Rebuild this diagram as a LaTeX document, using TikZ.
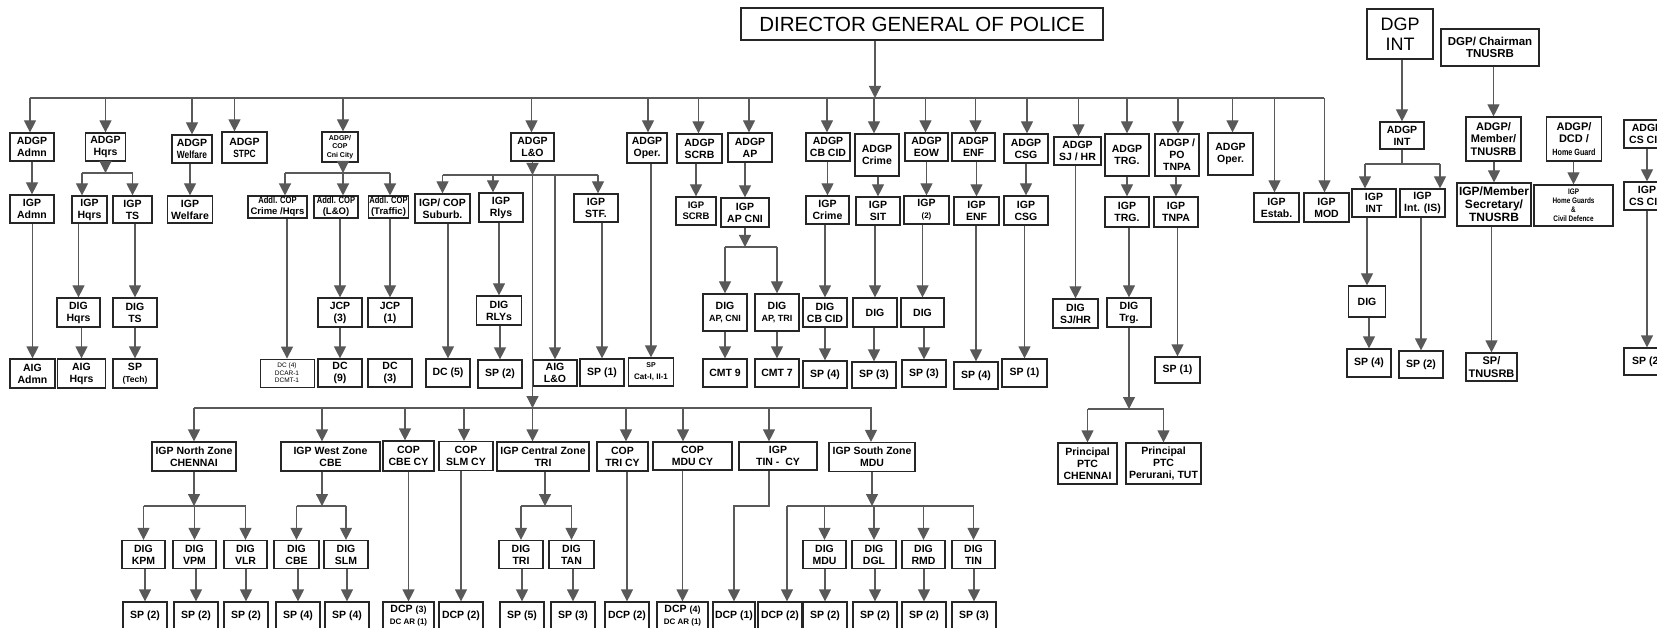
\documentclass[tikz,border=0pt]{standalone}
\usepackage{fontspec}
\setmainfont{Liberation Sans}
\newfontfamily\condfont[FakeStretch=0.8]{Liberation Sans}
\usetikzlibrary{arrows.meta,calc,positioning}
\tikzset{
  box/.style={draw=black!85, line width=1.2pt, align=center, inner sep=1pt,
    minimum height=28pt, font=\bfseries\fontsize{10.5}{12}\selectfont},
  tall/.style={minimum height=42pt},
  link/.style={draw=black!65, line width=1.2pt},
  arr/.style={link, -{Triangle[width=12pt,length=12pt]}},
  tinytext/.style={font=\bfseries\fontsize{7}{8.5}\selectfont},
  condtext/.style={font=\bfseries\fontsize{9.5}{11}\selectfont}
}

\begin{document}
\begin{tikzpicture}[x=1pt,y=-1pt]
\fill[white] (0,0) rectangle (1657,628);
\useasboundingbox (0,0) rectangle (1657,628);
\clip (0,0) rectangle (1657,628);

% head
\node[box, font=\fontsize{20.5}{22}\selectfont, minimum width=362, minimum height=32] (dgp) at (922,24) {DIRECTOR GENERAL OF POLICE};
\coordinate (busL) at (30,98);
\coordinate (busR) at (1324,98);
\coordinate (dgpDrop) at (875,98);

% ADGP row
\node[box, minimum width=44] (adgpAdmn) at (32,147) {ADGP\\Admn};
\node[box, minimum width=40] (adgpHqrs) at (105.5,147) {ADGP\\Hqrs};
\node[box, minimum width=40] (adgpWelfare) at (192,149) {ADGP\\{\condfont Welfare}};
\node[box, minimum width=45, minimum height=31] (adgpStpc) at (244.5,147.5) {ADGP\\{\condfont STPC}};
\node[box, tinytext, minimum width=36, minimum height=30] (adgpCni) at (340,147) {ADGP/\\COP\\Cni City};
\node[box, minimum width=43] (adgpLO) at (532.5,147) {ADGP\\L\&O};
\node[box, minimum width=40, minimum height=30] (adgpOper) at (647,148) {ADGP\\Oper.};
\node[box, minimum width=45, minimum height=29] (adgpScrb) at (699.5,148.5) {ADGP\\SCRB};
\node[box, minimum width=44, minimum height=29] (adgpAp) at (750,147.5) {ADGP\\AP};
\node[box, minimum width=44] (adgpCbcid) at (828,147) {ADGP\\CB CID};
\node[box, tall, minimum width=44] (adgpCrime) at (877,155) {ADGP\\Crime};
\node[box, minimum width=43] (adgpEow) at (926.5,147) {ADGP\\EOW};
\node[box, minimum width=43] (adgpEnf) at (973.5,147) {ADGP\\ENF};
\node[box, minimum width=44, minimum height=29] (adgpCsg) at (1026,148.5) {ADGP\\CSG};
\node[box, minimum width=47] (adgpSjhr) at (1077.5,151) {ADGP\\SJ / HR};
\node[box, tall, minimum width=44] (adgpTrg) at (1127,155) {ADGP\\TRG.};
\node[box, tall, minimum width=44] (adgpTnpa) at (1177,155) {ADGP /\\PO\\TNPA};
\node[box, tall, minimum width=45] (adgpOper2) at (1230.5,154) {ADGP\\Oper.};
\node[box, minimum width=45, minimum height=29] (igpEstab) at (1276.5,207.5) {IGP\\Estab.};
\node[box, minimum width=45, minimum height=29] (igpMod) at (1326.5,207.5) {IGP\\MOD};

% IGP row
\node[box, minimum width=44] (igpAdmn) at (32,209) {IGP\\Admn};
\node[box, minimum width=35, minimum height=27] (igpHqrs) at (89.5,209.5) {IGP\\Hqrs};
\node[box, minimum width=39, minimum height=27] (igpTs) at (132.5,209.5) {IGP\\TS};
\node[box, minimum width=45, minimum height=27] (igpWelfare) at (190,209.5) {IGP\\Welfare};
\node[box, condtext, minimum width=59, minimum height=20] (addlCrime) at (277.5,207) {{\condfont Addl. COP}\\Crime /Hqrs};
\node[box, condtext, minimum width=44, minimum height=20] (addlLO) at (336,207) {{\condfont Addl. COP}\\(L\&O)};
\node[box, condtext, minimum width=39, minimum height=20] (addlTraffic) at (388.5,207) {{\condfont Addl. COP}\\(Traffic)};
\node[box, minimum width=55, minimum height=29] (igpSuburb) at (442.5,208.5) {IGP/ COP\\Suburb.};
\node[box, minimum width=44, minimum height=29] (igpRlys) at (501,207.5) {IGP\\Rlys};
\node[box, minimum width=44] (igpStf) at (596,208) {IGP\\STF.};
\node[box, minimum width=40, font=\bfseries\fontsize{9.5}{11}\selectfont] (igpScrb) at (696,211) {IGP\\SCRB};
\node[box, minimum width=48, minimum height=29] (igpApcni) at (745,212.5) {IGP\\AP CNI};
\node[box, minimum width=43] (igpCrime) at (827.5,210) {IGP\\Crime};
\node[box, minimum width=44] (igpSit) at (878,211) {IGP\\SIT};
\node[box, minimum width=45] (igpEow) at (926.5,210) {IGP\\{\fontsize{8}{10}\selectfont (2)}};
\node[box, minimum width=45] (igpEnf) at (976.5,211) {IGP\\ENF};
\node[box, minimum width=44, minimum height=29] (igpCsg) at (1026,210.5) {IGP\\CSG};
\node[box, minimum width=44, minimum height=30] (igpTrg) at (1127,212) {IGP\\TRG.};
\node[box, minimum width=44, minimum height=30] (igpTnpa) at (1176,212) {IGP\\TNPA};

% DIG row
\node[box, minimum width=43, minimum height=29] (digHqrs) at (78.5,312.5) {DIG\\Hqrs};
\node[box, minimum width=44, minimum height=29] (digTs) at (135,312.5) {DIG\\TS};
\node[box, minimum width=44, minimum height=29] (jcp3) at (340,312.5) {JCP\\(3)};
\node[box, minimum width=44, minimum height=29] (jcp1) at (390,312.5) {JCP\\(1)};
\node[box, minimum width=45, minimum height=29] (digRlys) at (499,310.5) {DIG\\RLYs};
\node[box, minimum width=44, minimum height=37] (digApcni) at (725,312.5) {DIG\\{\fontsize{9}{11}\selectfont AP, CNI}};
\node[box, minimum width=44, minimum height=37] (digAptri) at (777,312.5) {DIG\\{\fontsize{9}{11}\selectfont AP, TRI}};
\node[box, minimum width=44, minimum height=29] (digCbcid) at (825,312.5) {DIG\\CB CID};
\node[box, minimum width=44, minimum height=29] (digSit) at (875,312.5) {DIG};
\node[box, minimum width=43, minimum height=29] (digEow) at (922.5,312.5) {DIG};
\node[box, minimum width=45, minimum height=29] (digSjhr) at (1075.5,313.5) {DIG\\SJ/HR};
\node[box, minimum width=44, minimum height=29] (digTrg) at (1129,312.5) {DIG\\Trg.};

% SP row
\node[box, minimum width=45, minimum height=29] (aigAdmn) at (32.5,373.5) {AIG\\Admn};
\node[box, minimum width=48, minimum height=29] (aigHqrs) at (81.5,373.5) {AIG\\Hqrs};
\node[box, minimum width=44, minimum height=29] (spTech) at (135,373.5) {SP\\{\fontsize{8.5}{10}\selectfont (Tech)}};
\node[box, line width=0.8pt, minimum width=54, font=\fontsize{6.5}{7.5}\selectfont] (dcCrime) at (287,373) {DC (4)\\DCAR-1\\DCMT-1};
\node[box, minimum width=44] (dc9) at (340,373) {DC\\(9)};
\node[box, minimum width=44] (dc3) at (390,373) {DC\\(3)};
\node[box, minimum width=44] (dc5) at (448,373) {DC (5)};
\node[box, minimum width=44] (spRlys) at (500,374) {SP (2)};
\node[box, minimum width=44, minimum height=26] (aigLO) at (555,373) {AIG\\L\&O};
\node[box, minimum width=44, minimum height=27] (spStf) at (602,372.5) {SP (1)};
\node[box, minimum width=45] (spCat) at (651,372) {{\fontsize{7}{8}\selectfont SP}\\{\fontsize{8}{9}\selectfont Cat-I, II-1}};
\node[box, minimum width=44] (cmt9) at (725,373) {CMT 9};
\node[box, minimum width=44] (cmt7) at (777,373) {CMT 7};
\node[box, minimum width=44, minimum height=27] (spCbcid) at (825,374.5) {SP (4)};
\node[box, minimum width=44, minimum height=26] (spSit) at (874,375) {SP (3)};
\node[box, minimum width=44, minimum height=27] (spEow) at (924,373.5) {SP (3)};
\node[box, minimum width=44, minimum height=27] (spEnf) at (976,375.5) {SP (4)};
\node[box, minimum width=45] (spCsg) at (1024.5,373) {SP (1)};
\node[box, minimum width=45, minimum height=26] (spTnpa) at (1177.5,370) {SP (1)};

% training
\node[box, minimum width=59, minimum height=41] (ptcChennai) at (1087.5,463.5) {Principal\\PTC\\CHENNAI};
\node[box, minimum width=75, minimum height=41] (ptcTut) at (1163.5,463.5) {Principal\\PTC\\Perurani, TUT};

% intelligence
\node[box, font=\fontsize{18}{20}\selectfont, minimum width=66, minimum height=50] (dgpInt) at (1400,34) {DGP\\INT};
\node[box, minimum width=44, minimum height=27] (adgpInt) at (1402,135.5) {ADGP\\INT};
\node[box, minimum width=44] (igpInt) at (1374,203) {IGP\\INT};
\node[box, minimum width=45] (igpIntIs) at (1422.5,203) {IGP\\Int. (IS)};
\node[box, minimum width=37, minimum height=31] (digInt) at (1367,301.5) {DIG};
\node[box, minimum width=44] (spIntA) at (1369,363) {SP (4)};
\node[box, minimum width=44, minimum height=27] (spIntB) at (1421,364.5) {SP (2)};

% recruitment, home guard, CS CID
\node[box, font=\bfseries\fontsize{11.5}{12.5}\selectfont, minimum width=98, minimum height=37] (dgpChair) at (1490,47.5) {DGP/ Chairman\\TNUSRB};
\node[box, font=\bfseries\fontsize{11}{12.5}\selectfont, minimum width=55, minimum height=44] (adgpMember) at (1493.5,139) {ADGP/\\Member/\\TNUSRB};
\node[box, font=\bfseries\fontsize{12}{13}\selectfont, minimum width=74, minimum height=43] (igpMember) at (1494,204.5) {IGP/Member\\Secretary/\\TNUSRB};
\node[box, font=\bfseries\fontsize{11}{12.5}\selectfont, minimum width=51] (spTnusrb) at (1491.5,367) {SP/\\TNUSRB};
\node[box, font=\bfseries\fontsize{11}{12.5}\selectfont, minimum width=55, minimum height=44] (adgpDcd) at (1574,139) {ADGP/\\DCD /\\{\condfont\fontsize{9}{12.5}\selectfont Home Guard}};
\node[box, font=\condfont\bfseries\fontsize{8}{9}\selectfont, minimum width=79, minimum height=41] (igpHome) at (1573.5,205.5) {IGP\\Home Guards\\\&\\Civil Defence};
\node[box, minimum width=46] (adgpCscid) at (1647,134) {ADGP\\CS CID};
\node[box, minimum width=46] (igpCscid) at (1647,196) {IGP\\CS CID};
\node[box, minimum width=46, minimum height=27] (spCscid) at (1647,361.5) {SP (2)};

% zones
\node[box, minimum width=84, minimum height=29] (igpNorth) at (194,456.5) {IGP North Zone\\CHENNAI};
\node[box, minimum width=99, minimum height=29] (igpWest) at (330.5,456.5) {IGP West Zone\\CBE};
\node[box, minimum width=51, minimum height=30] (copCbe) at (408.5,456) {COP\\CBE CY};
\node[box, minimum width=54, minimum height=29] (copSlm) at (466,456) {COP\\SLM CY};
\node[box, minimum width=92, minimum height=29] (igpCentral) at (543,456.5) {IGP Central Zone\\TRI};
\node[box, minimum width=51, minimum height=29] (copTri) at (622.5,456.5) {COP\\TRI CY};
\node[box, minimum width=79] (copMdu) at (692.5,456) {COP\\MDU CY};
\node[box, minimum width=78] (igpTin) at (778,456) {IGP\\TIN -\ \ CY};
\node[box, minimum width=86, minimum height=29] (igpSouth) at (872,457) {IGP South Zone\\MDU};

% zone DIGs
\foreach \n/\x/\w/\t in {digKpm/143.5/43/KPM, digVpm/194.5/43/VPM, digVlr/245.5/43/VLR,
    digCbe/296.5/45/CBE, digSlm/346/44/SLM, digTri/521/44/TRI, digTan/571.5/45/TAN,
    digMdu/824.5/43/MDU, digDgl/874/44/DGL, digRmd/923.5/43/RMD, digTin/973.5/43/TIN}
  \node[box, minimum width=\w] (\n) at (\x,554.5) {DIG\\\t};

% zone SPs
\foreach \n/\x/\w/\t in {spKpm/145/44/SP (2), spVpm/196/44/SP (2), spVlr/246/44/SP (2),
    spCbe/298/44/SP (4), spSlm/347/44/SP (4), dcpSlm/461/44/DCP (2), spTri/522/44/SP (5),
    spTan/573/44/SP (3), dcpTri/627/44/DCP (2), dcpTin/734/42/DCP (1), dcpSouth/780/44/DCP (2),
    spMdu/825/44/SP (2), spDgl/875/44/SP (2), spRmd/924/44/SP (2), spTin/974/44/SP (3)}
  \node[box, minimum width=\w] (\n) at (\x,616) {\t};
\node[box, minimum width=51] (dcpCbe) at (408.5,616) {DCP {\fontsize{9}{10}\selectfont(3)}\\{\fontsize{8}{9}\selectfont DC AR (1)}};
\node[box, minimum width=51] (dcpMdu) at (682.5,616) {DCP {\fontsize{9}{10}\selectfont(4)}\\{\fontsize{8}{9}\selectfont DC AR (1)}};

% top bus
\draw[link] (busL) -- (busR);
\draw[arr] (dgp.south -| dgpDrop) -- (dgpDrop);
\foreach \n/\s in {adgpAdmn/-2, adgpHqrs/0, adgpWelfare/0, adgpStpc/-10, adgpCni/3, adgpLO/-1,
    adgpOper/1, adgpScrb/-1, adgpAp/-1, adgpCbcid/-1, adgpCrime/-3, adgpEow/-1, adgpEnf/2,
    adgpCsg/1, adgpSjhr/1, adgpTrg/0, adgpTnpa/1, adgpOper2/2, igpEstab/-2, igpMod/-2}
  \path ([xshift=\s pt]\n.north |- busL) edge[arr] ([xshift=\s pt]\n.north);

% straight chains
\foreach \a/\b in {adgpAdmn/igpAdmn, igpAdmn/aigAdmn, igpHqrs/digHqrs, digHqrs/aigHqrs,
    igpTs/digTs, digTs/spTech, adgpWelfare/igpWelfare, addlCrime/dcCrime, addlLO/jcp3,
    jcp3/dc9, addlTraffic/jcp1, igpSuburb/dc5, igpRlys/digRlys, digRlys/spRlys, igpStf/spStf,
    adgpOper/spCat, adgpScrb/igpScrb, adgpAp/igpApcni, digApcni/cmt9, digAptri/cmt7,
    adgpCbcid/igpCrime, igpCrime/digCbcid, digCbcid/spCbcid, adgpCrime/igpSit, igpSit/digSit,
    digSit/spSit, adgpEow/igpEow, igpEow/digEow, digEow/spEow, adgpEnf/igpEnf, igpEnf/spEnf,
    adgpCsg/igpCsg, igpCsg/spCsg, adgpSjhr/digSjhr, adgpTrg/igpTrg, igpTrg/digTrg,
    adgpTnpa/igpTnpa, igpTnpa/spTnpa, dgpInt/adgpInt, igpInt/digInt, digInt/spIntA,
    igpIntIs/spIntB, dgpChair/adgpMember, adgpMember/igpMember, igpMember/spTnusrb,
    adgpDcd/igpHome, adgpCscid/igpCscid, igpCscid/spCscid, copCbe/dcpCbe, copSlm/dcpSlm,
    copTri/dcpTri, copMdu/dcpMdu, digKpm/spKpm, digVpm/spVpm, digVlr/spVlr, digCbe/spCbe,
    digSlm/spSlm, digTri/spTri, digTan/spTan, digMdu/spMdu, digDgl/spDgl, digRmd/spRmd,
    digTin/spTin}
  \path (\a.south -| \b) edge[arr] (\b);

% Hqrs split
\coordinate (hqBar) at (0,173);
\draw[arr] (adgpHqrs) -- (adgpHqrs |- hqBar);
\draw[link] ([xshift=-7.5pt]igpHqrs.north |- hqBar) -- (igpTs |- hqBar);
\path ([xshift=-7.5pt]igpHqrs.north |- hqBar) edge[arr] ([xshift=-7.5pt]igpHqrs.north)
      (igpTs |- hqBar) edge[arr] (igpTs);

% Cni City split
\coordinate (cniBar) at (0,173);
\draw[arr] ([xshift=3pt]adgpCni.south) -- ([xshift=3pt]adgpCni.south |- cniBar);
\draw[link] ([xshift=7.5pt]addlCrime.north |- cniBar) -- ([xshift=1.5pt]addlTraffic.north |- cniBar);
\foreach \n/\s in {addlCrime/7.5, addlLO/7, addlTraffic/1.5}
  \path ([xshift=\s pt]\n.north |- cniBar) edge[arr] ([xshift=\s pt]\n.north);

% L&O split
\coordinate (loBar) at (0,175);
\coordinate (zoneBus) at (0,408);
\draw[arr] (adgpLO) -- (adgpLO |- loBar);
\draw[link] (igpSuburb |- loBar) -- ([xshift=2pt]igpStf.north |- loBar);
\foreach \n/\s in {igpSuburb/0, igpRlys/-8, igpStf/2}
  \path ([xshift=\s pt]\n.north |- loBar) edge[arr] ([xshift=\s pt]\n.north);
\path (aigLO |- loBar) edge[arr] (aigLO);
\draw[arr] (adgpLO |- loBar) -- (adgpLO |- zoneBus);

% AP split
\coordinate (apBar) at (0,247);
\draw[arr] (igpApcni) -- (igpApcni |- apBar);
\draw[link] (digApcni |- apBar) -- (digAptri |- apBar);
\path (digApcni |- apBar) edge[arr] (digApcni)
      (digAptri |- apBar) edge[arr] (digAptri);

% training split
\coordinate (trgBar) at (0,409);
\draw[arr] (digTrg) -- (digTrg |- trgBar);
\draw[link] (ptcChennai |- trgBar) -- (ptcTut |- trgBar);
\path (ptcChennai |- trgBar) edge[arr] (ptcChennai)
      (ptcTut |- trgBar) edge[arr] (ptcTut);

% INT split
\coordinate (intBar) at (0,164);
\draw[link] (adgpInt) -- (adgpInt |- intBar);
\draw[link] ([xshift=-9pt]igpInt.north |- intBar) -- ([xshift=17.5pt]igpIntIs.north |- intBar);
\path ([xshift=-9pt]igpInt.north |- intBar) edge[arr] ([xshift=-9pt]igpInt.north)
      ([xshift=17.5pt]igpIntIs.north |- intBar) edge[arr] ([xshift=17.5pt]igpIntIs.north);

% zone bus
\draw[link] (igpNorth |- zoneBus) -- (igpSouth |- zoneBus);
\foreach \n/\s in {igpNorth/0, igpWest/-8.5, copCbe/-3.5, copSlm/-2, igpCentral/-10.5,
    copTri/3.5, copMdu/-9.5, igpTin/-9, igpSouth/-1}
  \path ([xshift=\s pt]\n.north |- zoneBus) edge[arr] ([xshift=\s pt]\n.north);

% zone splits
\coordinate (zoneBar) at (0,506);
\draw[arr] (igpNorth) -- (igpNorth |- zoneBar);
\draw[link] (digKpm |- zoneBar) -- (digVlr |- zoneBar);
\draw[arr] ([xshift=-8.5pt]igpWest.south) -- ([xshift=-8.5pt]igpWest.south |- zoneBar);
\draw[link] (digCbe |- zoneBar) -- (digSlm |- zoneBar);
\draw[arr] ([xshift=2pt]igpCentral.south) -- ([xshift=2pt]igpCentral.south |- zoneBar);
\draw[link] (digTri |- zoneBar) -- (digTan |- zoneBar);
\draw[arr] (igpSouth) -- (igpSouth |- zoneBar);
\draw[link] ([xshift=7pt]dcpSouth.north |- zoneBar) -- (digTin |- zoneBar);
\path ([xshift=7pt]dcpSouth.north |- zoneBar) edge[arr] ([xshift=7pt]dcpSouth.north);
\foreach \n in {digKpm, digVpm, digVlr, digCbe, digSlm, digTri, digTan, digMdu, digDgl, digRmd, digTin}
  \path (\n |- zoneBar) edge[arr] (\n);
\draw[arr] ([xshift=-9pt]igpTin.south) -- ([xshift=-9pt]igpTin.south |- zoneBar) -| (dcpTin.north);
\end{tikzpicture}
\end{document}
